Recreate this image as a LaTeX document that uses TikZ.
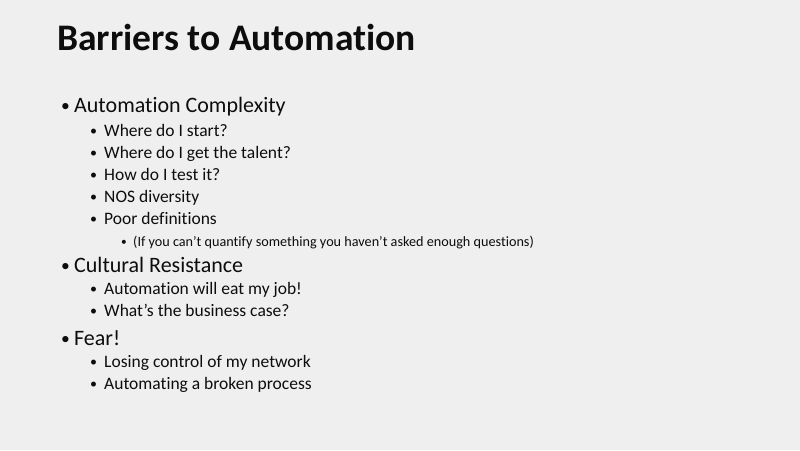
\documentclass[tikz,border=0pt]{standalone}
\usepackage{fontspec}
\setmainfont[RawFeature={-liga;-clig;-dlig}]{Carlito}
\definecolor{bg}{HTML}{EFEFEF}
\definecolor{txt}{HTML}{0D0D0D}
\newcommand{\bul}[1]{\makebox[#1][l]{\raisebox{0.05em}{\scalebox{0.8}{•}}}}
\begin{document}
\begin{tikzpicture}[x=1pt,y=-1pt,
  every node/.style={inner sep=0pt,text=txt,anchor=mid west},
  lone/.style={font=\fontsize{22}{27}\selectfont},
  ltwo/.style={font=\fontsize{17.5}{21}\selectfont},
  lthree/.style={font=\fontsize{14.2}{17}\selectfont}]
\fill[bg] (0,0) rectangle (800,450);
\useasboundingbox (0,0) rectangle (800,450);
\node[font=\fontsize{37.5}{45}\selectfont\bfseries] (title) at (57,48) {Barriers to Automation};
\node[lone] (a) at (61,110) {\bul{13pt}Automation Complexity};
\node[ltwo] (a1) at (90,134) {\bul{14pt}Where do I start?};
\node[ltwo] (a2) at (90,156) {\bul{14pt}Where do I get the talent?};
\node[ltwo] (a3) at (90,178) {\bul{14pt}How do I test it?};
\node[ltwo] (a4) at (90,200) {\bul{14pt}NOS diversity};
\node[ltwo] (a5) at (90,222) {\bul{14pt}Poor definitions};
\node[lthree] (a51) at (121,244) {\bul{12pt}(If you can’t quantify something you haven’t asked enough questions)};
\node[lone] (b) at (61,270) {\bul{13pt}Cultural Resistance};
\node[ltwo] (b1) at (90,292) {\bul{14pt}Automation will eat my job!};
\node[ltwo] (b2) at (90,314) {\bul{14pt}What’s the business case?};
\node[lone] (c) at (61,343) {\bul{13pt}Fear!};
\node[ltwo] (c1) at (90,365) {\bul{14pt}Losing control of my network};
\node[ltwo] (c2) at (90,387) {\bul{14pt}Automating a broken process};
\end{tikzpicture}
\end{document}
